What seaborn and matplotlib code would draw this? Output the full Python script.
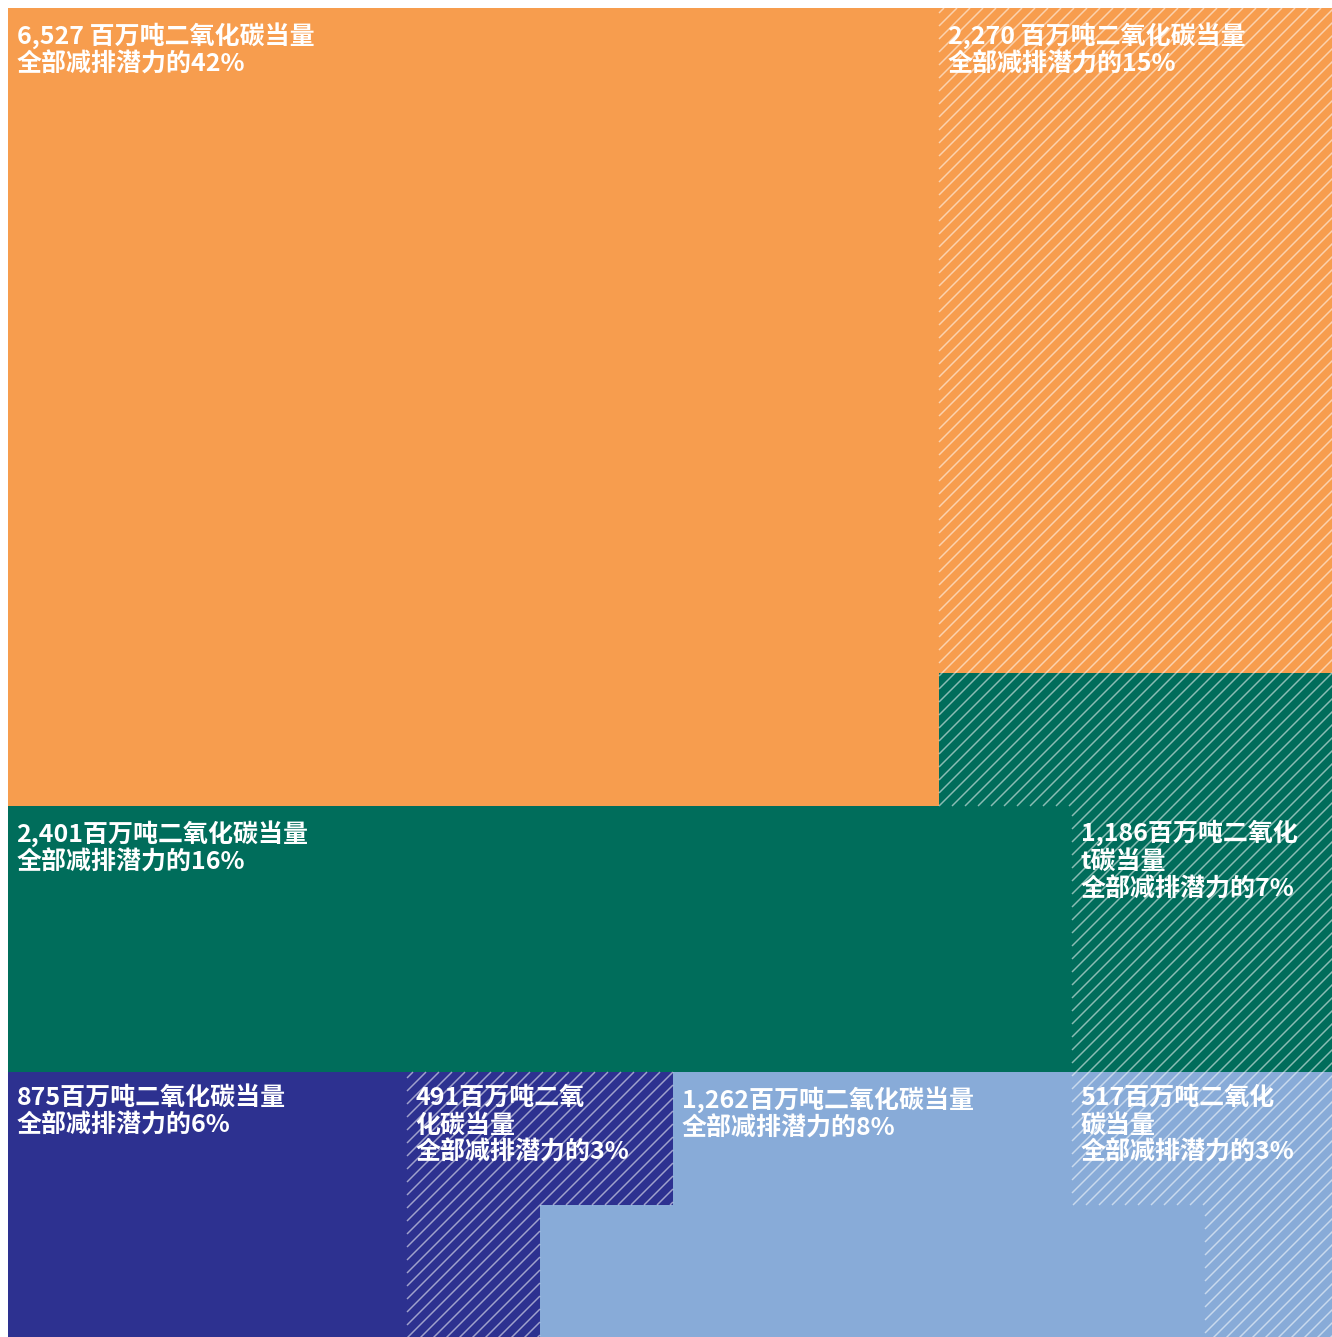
import numpy as np
import matplotlib
matplotlib.use('Agg')
import matplotlib.pyplot as plt
import seaborn as sns
from matplotlib.colors import ListedColormap
from matplotlib.collections import LineCollection

sns.set_theme(style = 'white')
plt.rcParams['font.family'] = ['Noto Sans CJK SC', 'DejaVu Sans']


# one letter per category, 10 x 10 cells, each cell = 1% of total potential
codes = ['A', 'B', 'C', 'D', 'E', 'F', 'G', 'H']

waffle_rows = [
    'AAAAAAABBB',
    'AAAAAAABBB',
    'AAAAAAABBB',
    'AAAAAAABBB',
    'AAAAAAABBB',
    'AAAAAAADDD',
    'CCCCCCCCDD',
    'CCCCCCCCDD',
    'EEEFFGGGHH',
    'EEEFGGGGGH',
]

labels = [
    '6,527 百万吨二氧化碳当量\n全部减排潜力的42%',
    '2,270 百万吨二氧化碳当量\n全部减排潜力的15%',
    '2,401百万吨二氧化碳当量\n全部减排潜力的16%',
    '1,186百万吨二氧化\nt碳当量\n全部减排潜力的7%',
    '875百万吨二氧化碳当量\n全部减排潜力的6%',
    '491百万吨二氧\n化碳当量\n全部减排潜力的3%',
    '1,262百万吨二氧化碳当量\n全部减排潜力的8%',
    '517百万吨二氧化\n碳当量\n全部减排潜力的3%',
]

hatched = [False, True, False, True, False, True, False, True]

colors = ['#F79D4E', '#F79D4E', '#006D5B', '#006D5B',
          '#2D3190', '#2D3190', '#88ABD8', '#88ABD8']

# (row, col) of the cell where each label starts
label_cells = [(0, 0), (0, 7), (6, 0), (6, 8), (8, 0), (8, 3), (8, 5), (8, 8)]


def hatch_segments(grid, step):
    # diagonal stripes x + y = k * step, clipped to every hatched cell
    segs = []
    for r in range(grid.shape[0]):
        for c in range(grid.shape[1]):
            if not hatched[grid[r, c]]:
                continue
            k0 = int(np.floor((c + r) / step))
            k1 = int(np.ceil((c + r + 2) / step))
            for k in range(k0, k1 + 1):
                v = k * step
                lo = max(c, v - (r + 1))
                hi = min(c + 1, v - r)
                if hi > lo:
                    segs.append([(lo, v - lo), (hi, v - hi)])
    return segs


def main() -> None:

    grid = np.array([[codes.index(ch) for ch in row] for row in waffle_rows])

    dpi = 133.2
    W, H = 1332, 1337
    fig = plt.figure(figsize = (W / dpi, H / dpi), dpi = dpi)
    # grid of 133 px cells, last row / column slightly cut by the canvas edge
    ax = fig.add_axes([8 / W, (H - 8 - 1330) / H, 1330 / W, 1330 / H])

    sns.heatmap(grid, cmap = ListedColormap(colors), vmin = -0.5, vmax = len(codes) - 0.5,
                cbar = False, xticklabels = False, yticklabels = False, ax = ax)

    ax.add_collection(LineCollection(hatch_segments(grid, 13 / 133), colors = [(1, 1, 1, 0.55)],
                                     linewidths = 0.8, capstyle = 'butt'))

    for text, (r, c) in zip(labels, label_cells):
        ax.annotate(text, xy = (c, r), xytext = (4.6, -7.5), textcoords = 'offset points',
                    ha = 'left', va = 'top', color = 'white', fontsize = 13.5,
                    fontweight = 'bold', linespacing = 1.18)

    ax.set_axis_off()
    fig.savefig('out.png', dpi = dpi, facecolor = 'white')


if __name__ == '__main__': main()
